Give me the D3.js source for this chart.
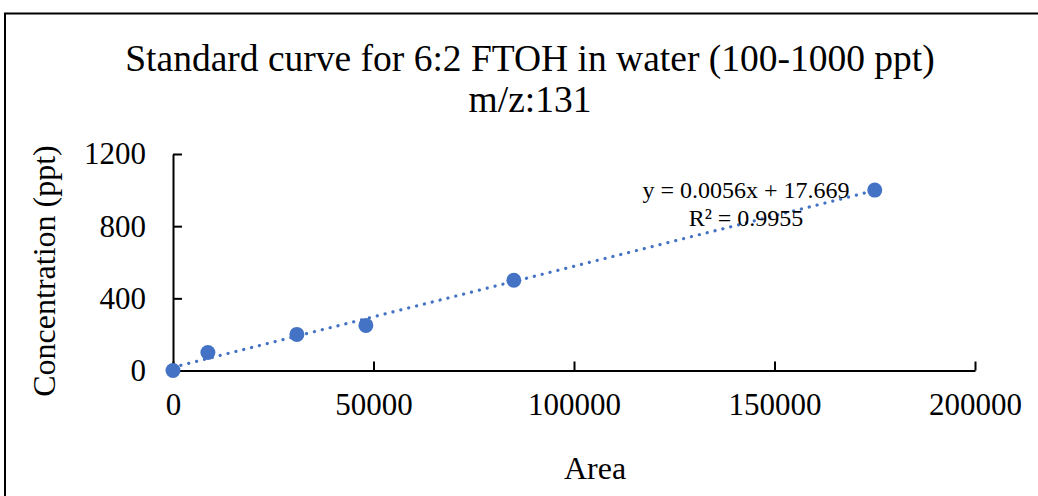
<!DOCTYPE html>
<html>
<head>
<meta charset="utf-8">
<script src="https://cdn.jsdelivr.net/npm/d3@7.9.0/dist/d3.min.js"></script>
<style>
  body { margin: 0; background: #fff; }
  svg text { font-family: "Liberation Serif", "Times New Roman", serif; fill: #000; }
</style>
</head>
<body>
<svg id="chart" width="1038" height="496"></svg>
<script>
// Data
const areas = [0, 8700, 30900, 48100, 85000, 175000];
const concentrations = [0, 100, 200, 250, 500, 1000];
const xTicks = [0, 50000, 100000, 150000, 200000];
const yTicks = [0, 400, 800, 1200];
const slope = 0.0056, intercept = 17.669, rSquared = 0.9955;

const svg = d3.select('#chart');
const blue = '#4472C4';

// outer chart frame
svg.append('rect')
  .attr('x', 5).attr('y', 13.5)
  .attr('width', 1100).attr('height', 600)
  .attr('fill', 'none').attr('stroke', '#000').attr('stroke-width', 2);

const x = d3.scaleLinear().domain([0, 200000]).range([173, 975]);
const y = d3.scaleLinear().domain([0, 1200]).range([370.5, 154]);

// title
svg.append('text').attr('x', 530).attr('y', 71).attr('text-anchor', 'middle')
  .style('font-size', '37.5px').text('Standard curve for 6:2 FTOH in water (100-1000 ppt)');
svg.append('text').attr('x', 530).attr('y', 112).attr('text-anchor', 'middle')
  .style('font-size', '37.5px').text('m/z:131');

// axes (ticks point inward like the reference)
const xAxis = svg.append('g').attr('transform', `translate(0,${y(0)})`)
  .call(d3.axisBottom(x).tickValues(xTicks).tickSizeInner(-9).tickSizeOuter(0).tickPadding(22).tickFormat(d3.format('d')));
const yAxis = svg.append('g').attr('transform', `translate(${x(0)},0)`)
  .call(d3.axisLeft(y).tickValues(yTicks).tickSizeInner(-9).tickSizeOuter(0).tickPadding(27).tickFormat(d3.format('d')));

[xAxis, yAxis].forEach(g => {
  g.select('.domain').attr('stroke', '#000').attr('stroke-width', 2);
  g.selectAll('.tick line').attr('stroke', '#000').attr('stroke-width', 2);
  g.selectAll('.tick text').style('font-size', '31px').attr('fill', '#000');
});
xAxis.selectAll('.tick text').attr('dy', '0.71em');

// axis titles
svg.append('text').attr('x', 595).attr('y', 479).attr('text-anchor', 'middle')
  .style('font-size', '32px').text('Area');
svg.append('text').attr('transform', `translate(55,271) rotate(-90)`).attr('text-anchor', 'middle')
  .style('font-size', '32px').text('Concentration (ppt)');

// linear trendline (dotted)
const xEnd = d3.max(areas);
svg.append('line')
  .attr('x1', x(0)).attr('y1', y(intercept))
  .attr('x2', x(xEnd)).attr('y2', y(slope * xEnd + intercept))
  .attr('stroke', blue).attr('stroke-width', 3.2)
  .attr('stroke-linecap', 'round').attr('stroke-dasharray', '0.1 8');

// points
svg.append('g').selectAll('circle')
  .data(areas.map((a, i) => [a, concentrations[i]]))
  .join('circle')
  .attr('cx', d => x(d[0])).attr('cy', d => y(d[1]))
  .attr('r', 7.5).attr('fill', blue);

// equation label
svg.append('text').attr('x', 746).attr('y', 198).attr('text-anchor', 'middle')
  .style('font-size', '24px').text(`y = ${slope}x + ${intercept}`);
svg.append('text').attr('x', 746).attr('y', 226).attr('text-anchor', 'middle')
  .style('font-size', '24px').text(`R² = ${rSquared}`);
</script>
</body>
</html>
